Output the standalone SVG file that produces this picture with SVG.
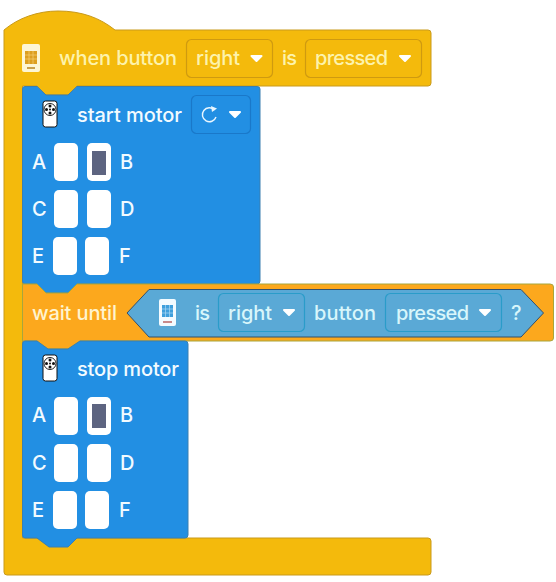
<svg xmlns="http://www.w3.org/2000/svg" width="556" height="582" viewBox="0 0 556 582">
<style>
text{font-family:"Inter","Liberation Sans",sans-serif;font-size:20px;font-weight:500}
.y{fill:#fdf3ac}.b{fill:#f2fbff}.c{fill:#d8f6fb}.o{fill:#fff4cf}
.dy{fill:none;stroke:#cf9a10;stroke-width:1.2}
.db{fill:none;stroke:#1a78c9;stroke-width:1.2}
.dc{fill:none;stroke:#2a9cc9;stroke-width:1.2}
.slot{fill:#fff}
.dark{fill:#5d6480}
.blk{fill:#228fe3;stroke:#3a7fb0;stroke-width:1}
</style>
<defs>
<path id="tri" d="M-5,-2.500H5L0,2.500Z" fill="#fff" stroke="#fff" stroke-width="2" stroke-linejoin="round"/>
<g id="motorIcon">
<rect x="0" y="0" width="14" height="26" rx="2.500" fill="#fff" stroke="#111" stroke-width="1"/>
<circle cx="7" cy="8.500" r="6" fill="#fff" stroke="#222" stroke-width="1"/>
<circle cx="7" cy="5" r="1.500" fill="#111"/><circle cx="7" cy="12" r="1.500" fill="#111"/>
<circle cx="3.500" cy="8.500" r="1.500" fill="#111"/><circle cx="10.500" cy="8.500" r="1.500" fill="#111"/>
<circle cx="7" cy="8.500" r="1" fill="#111"/>
</g>
</defs>
<g id="container">
<path d="M4,30C18,18 38,11 58,11C82,11 100,18 115,30H428Q431,30 431,33V83Q431,86 428,86H77L68,95H46L37,86H22.500V538H428Q431,538 431,541V572Q431,575 428,575H7Q4,575 4,572Z" fill="#f4ba0c" stroke="#c99a1b" stroke-width="1"/>
</g>
<g id="hat">
<rect x="22" y="44" width="18" height="28" rx="2" fill="#fdf6d5"/>
<rect x="25" y="51" width="12" height="13" fill="#dd9f1f"/>
<path d="M25,55H37M25,59H37M29,51V64M33,51V64" stroke="#f6d070" stroke-width=".7"/>
<path d="M27,68H35" stroke="#c9a04a" stroke-width="2"/>
<text class="y" x="59" y="65" textLength="118">when button</text>
<rect class="dy" x="186.500" y="39.500" width="86" height="38" rx="5"/>
<text class="y" x="196" y="65" textLength="44">right</text>
<use href="#tri" x="256.500" y="58.500"/>
<text class="y" x="282" y="65" textLength="15">is</text>
<rect class="dy" x="305.500" y="39.500" width="116" height="38" rx="5"/>
<text class="y" x="315" y="65" textLength="73">pressed</text>
<use href="#tri" x="405" y="58.500"/>
</g>
<g id="startMotor">
<path class="blk" d="M22.500,89Q22.500,86.500 25,86.500H37L46,95H68L77,86.500H257Q260,86.500 260,89V281Q260,284 257,284H77L68,293H46L37,284H25Q22.500,284 22.500,281Z"/>
<use href="#motorIcon" x="43" y="101"/>
<text class="b" x="77" y="122" textLength="105">start motor</text>
<rect class="db" x="191.500" y="95.500" width="59" height="38" rx="5"/>
<path d="M214.500,110A7,7 0 1 0 216,117" fill="none" stroke="#e8f6ff" stroke-width="1.400"/>
<path d="M211,106L217,108.500L212,112Z" fill="#e8f6ff"/>
<use href="#tri" x="235" y="114.500"/>
<text class="b" x="32" y="169">A</text>
<rect class="slot" x="54" y="143" width="24" height="38" rx="5"/>
<rect class="slot" x="87" y="143" width="24" height="38" rx="5"/>
<rect class="dark" x="92" y="151" width="14" height="24"/>
<text class="b" x="120" y="169">B</text>
<text class="b" x="32" y="216">C</text>
<rect class="slot" x="54" y="190" width="24" height="38" rx="5"/>
<rect class="slot" x="87" y="190" width="24" height="38" rx="5"/>
<text class="b" x="120" y="216">D</text>
<text class="b" x="32" y="263">E</text>
<rect class="slot" x="53" y="237" width="24" height="38" rx="5"/>
<rect class="slot" x="85" y="237" width="24" height="38" rx="5"/>
<text class="b" x="119" y="263">F</text>
</g>
<g id="waitUntil">
<path d="M22.500,284H37L46,293H68L77,284H550Q553.500,284 553.500,287V338Q553.500,341 550,341H80L68,349H48L37,341H22.500Z" fill="#fca81d" stroke="#a7a63c" stroke-width="1"/>
<text class="o" x="32" y="320" textLength="85">wait until</text>
<path d="M127,313L149,289.500H521L543.500,313L521,337H149Z" fill="#5aa9d6" stroke="#33506c" stroke-width="1"/>
<rect x="159" y="299" width="17" height="27" rx="2" fill="#f4fbff"/>
<rect x="162" y="305" width="11" height="12" fill="#3f9fdc"/>
<path d="M162,309H173M162,313H173M165.500,305V317M169.500,305V317" stroke="#a9d8f5" stroke-width=".7"/>
<path d="M163,322H172" stroke="#c98a8a" stroke-width="2"/>
<text class="c" x="195" y="320" textLength="15">is</text>
<rect class="dc" x="218.500" y="293.500" width="86" height="38" rx="5"/>
<text class="c" x="228" y="320" textLength="44">right</text>
<use href="#tri" x="289" y="312.500"/>
<text class="c" x="314" y="320" textLength="62">button</text>
<rect class="dc" x="385.500" y="293.500" width="116" height="38" rx="5"/>
<text class="c" x="396" y="320" textLength="73">pressed</text>
<use href="#tri" x="485" y="312.500"/>
<text class="c" x="511" y="320">?</text>
</g>
<g id="stopMotor">
<path class="blk" d="M22.500,344Q22.500,341 25,341H37L48,349H68L80,341H185Q188,341 188,344V535Q188,538 185,538H77L68,547H49L37,538H25Q22.500,538 22.500,535Z"/>
<use href="#motorIcon" x="43" y="355"/>
<text class="b" x="77" y="376" textLength="102">stop motor</text>
<text class="b" x="32" y="422">A</text>
<rect class="slot" x="54" y="397" width="24" height="38" rx="5"/>
<rect class="slot" x="87" y="397" width="24" height="38" rx="5"/>
<rect class="dark" x="92" y="404" width="14" height="24"/>
<text class="b" x="120" y="422">B</text>
<text class="b" x="32" y="470">C</text>
<rect class="slot" x="54" y="444" width="24" height="38" rx="5"/>
<rect class="slot" x="87" y="444" width="24" height="38" rx="5"/>
<text class="b" x="120" y="470">D</text>
<text class="b" x="32" y="517">E</text>
<rect class="slot" x="53" y="491" width="24" height="38" rx="5"/>
<rect class="slot" x="85" y="491" width="24" height="38" rx="5"/>
<text class="b" x="119" y="517">F</text>
</g>
<g id="connectors"/>
</svg>
